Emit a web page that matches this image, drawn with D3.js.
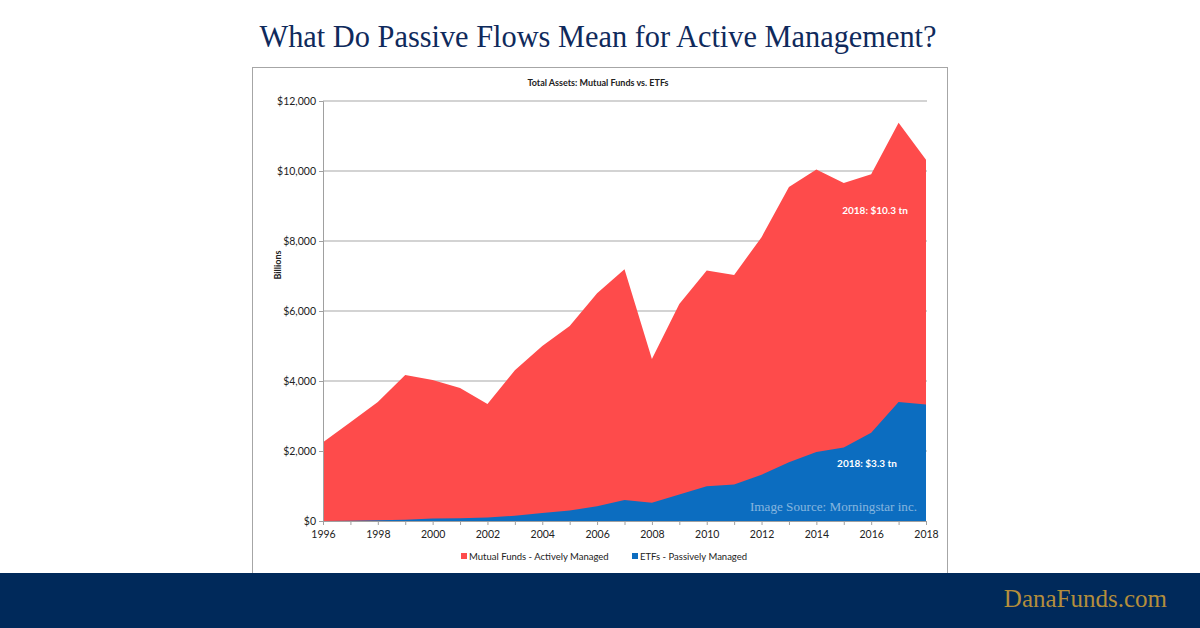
<!DOCTYPE html>
<html><head><meta charset="utf-8">
<script src="https://cdn.jsdelivr.net/npm/d3@7"></script>
<style>body{margin:0;background:#fff;} svg{display:block}</style>
</head><body><svg id="c" width="1200" height="628"></svg>
<script>
const years = [1996,1997,1998,1999,2000,2001,2002,2003,2004,2005,2006,2007,2008,2009,2010,2011,2012,2013,2014,2015,2016,2017,2018];
const mutualFunds = [2250,2820,3400,4170,4030,3800,3340,4310,5000,5570,6510,7190,4630,6200,7160,7030,8110,9540,10040,9660,9910,11380,10320];
const etfs = [2,10,20,35,70,80,100,150,230,300,420,600,520,760,990,1040,1320,1680,1970,2100,2520,3400,3330];
const yTicks = [0,2000,4000,6000,8000,10000,12000];
const xLabelYears = [1996,1998,2000,2002,2004,2006,2008,2010,2012,2014,2016,2018];
const seriesNames = ["Mutual Funds - Actively Managed","ETFs - Passively Managed"];
const annotations = [{year:2018, text:"2018: $10.3 tn", value:8880},{year:2018, text:"2018: $3.3 tn", value:1630}];

const svg = d3.select("#c");
const RED = "#fe4b4b", BLUE = "#0c6dc0";

// page title
svg.append("text").attr("x",598).attr("y",47).attr("text-anchor","middle")
  .attr("font-family","Liberation Serif, serif").attr("font-size",30.5)
  .attr("textLength",677).attr("lengthAdjust","spacingAndGlyphs")
  .attr("fill","#0f2a5c").text("What Do Passive Flows Mean for Active Management?");

// chart frame
svg.append("rect").attr("x",252.5).attr("y",67.5).attr("width",695).attr("height",510)
  .attr("fill","#fff").attr("stroke","#a6a6a6").attr("stroke-width",1);

svg.append("text").attr("x",598).attr("y",86).attr("text-anchor","middle")
  .attr("font-family","Lato, sans-serif").attr("font-weight","bold").attr("font-size",9)
  .attr("fill","#222").text("Total Assets: Mutual Funds vs. ETFs");

const x = d3.scaleLinear().domain([1996,2018]).range([323,926]);
const y = d3.scaleLinear().domain([0,12000]).range([521,101]);

// gridlines
svg.append("g").selectAll("line").data(yTicks.filter(d=>d>0)).join("line")
  .attr("x1",323).attr("x2",927).attr("y1",d=>y(d)).attr("y2",d=>y(d))
  .attr("stroke","#c4c4c4").attr("stroke-width",1.4);

const area = (vals) => d3.area().x((d,i)=>x(years[i])).y0(y(0)).y1(d=>y(d))(vals);
svg.append("path").attr("d",area(mutualFunds)).attr("fill",RED);
svg.append("path").attr("d",area(etfs)).attr("fill",BLUE);

// axes
const yAxis = svg.append("g").attr("transform","translate(323,0)")
  .call(d3.axisLeft(y).tickValues(yTicks).tickSize(4).tickPadding(3)
    .tickFormat(d=>"$"+d3.format(",")(d)));
const xAxis = svg.append("g").attr("transform","translate(0,521)")
  .call(d3.axisBottom(x).tickValues(years).tickSize(4).tickPadding(6)
    .tickFormat(d=> xLabelYears.includes(d) ? String(d) : ""));
[yAxis,xAxis].forEach(g=>{
  g.selectAll(".domain").attr("stroke","#a0a0a0");
  g.selectAll(".tick line").attr("stroke","#a0a0a0");
  g.selectAll("text").attr("font-family","Lato, sans-serif").attr("font-size",10.5).attr("fill","#222");
});

svg.append("text").attr("transform","translate(281,265) rotate(-90)").attr("text-anchor","middle")
  .attr("font-family","Lato, sans-serif").attr("font-weight","bold").attr("font-size",9)
  .attr("fill","#222").text("Billions");

// annotations
svg.selectAll("text.ann").data(annotations).join("text").attr("class","ann")
  .attr("x",(d,i)=> i===0 ? 875 : 867).attr("y",d=>y(d.value)+3.5).attr("text-anchor","middle")
  .attr("font-family","Lato, sans-serif").attr("font-weight","bold").attr("font-size",10)
  .attr("fill","#fff").text(d=>d.text);

svg.append("text").attr("x",750).attr("y",511)
  .attr("font-family","Liberation Serif, serif").attr("font-size",13)
  .attr("textLength",167).attr("lengthAdjust","spacingAndGlyphs")
  .attr("fill","#ffffff").attr("fill-opacity",0.5).text("Image Source: Morningstar inc.");

// legend
const legend = [{name:seriesNames[0],color:RED,x:461},{name:seriesNames[1],color:BLUE,x:632}];
const lg = svg.append("g").selectAll("g").data(legend).join("g").attr("transform",d=>`translate(${d.x},556)`);
lg.append("rect").attr("x",0).attr("y",-3).attr("width",6).attr("height",6).attr("fill",d=>d.color);
lg.append("text").attr("x",8).attr("y",3.5).attr("font-family","Lato, sans-serif").attr("font-size",9.5)
  .attr("fill","#222").text(d=>d.name);

// footer
svg.append("rect").attr("x",0).attr("y",573).attr("width",1200).attr("height",55).attr("fill","#00295a");
svg.append("text").attr("x",1167).attr("y",607).attr("text-anchor","end")
  .attr("font-family","Liberation Serif, serif").attr("font-size",25)
  .attr("fill","#b48e3c").text("DanaFunds.com");
</script></body></html>
